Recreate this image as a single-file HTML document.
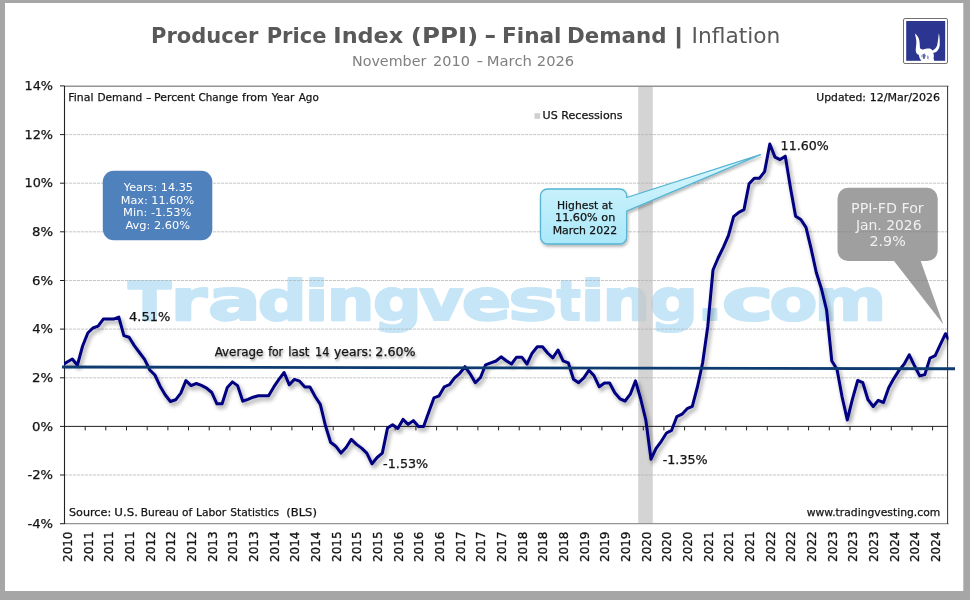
<!DOCTYPE html>
<html lang="en"><head><meta charset="utf-8"><title>Producer Price Index (PPI) - Final Demand | Inflation</title>
<style>
html,body{margin:0;padding:0;background:#a6a6a6;}
body{width:970px;height:600px;overflow:hidden;position:relative;}
svg{position:absolute;left:0;top:0;display:block}
text{font-family:"DejaVu Sans","Liberation Sans",sans-serif;}
.v8{font-size:10.67px;fill:#111}
.v9{font-size:12px;fill:#111}
.xl{font-family:"DejaVu Sans Condensed","DejaVu Sans","Liberation Sans",sans-serif;font-size:13px;fill:#141414;stroke:#141414;stroke-width:0.3px}
</style></head><body>
<svg width="970" height="600" viewBox="0 0 970 600">
<defs>
<filter id="sh" x="-5%" y="-5%" width="110%" height="115%"><feGaussianBlur in="SourceAlpha" stdDeviation="2"/><feOffset dx="1.5" dy="3" result="b"/><feComponentTransfer><feFuncA type="linear" slope="0.4"/></feComponentTransfer><feMerge><feMergeNode/><feMergeNode in="SourceGraphic"/></feMerge></filter>
<filter id="sh2" x="-10%" y="-10%" width="120%" height="130%"><feGaussianBlur in="SourceAlpha" stdDeviation="1.5"/><feOffset dx="1" dy="2" result="b"/><feComponentTransfer><feFuncA type="linear" slope="0.3"/></feComponentTransfer><feMerge><feMergeNode/><feMergeNode in="SourceGraphic"/></feMerge></filter>
<filter id="ts" x="-5%" y="-40%" width="110%" height="200%"><feGaussianBlur in="SourceAlpha" stdDeviation="1.1"/><feOffset dx="0.8" dy="1.6" result="b"/><feComponentTransfer><feFuncA type="linear" slope="0.38"/></feComponentTransfer><feMerge><feMergeNode/><feMergeNode in="SourceGraphic"/></feMerge></filter>
<linearGradient id="cg" x1="0" y1="0" x2="0" y2="1"><stop offset="0" stop-color="#d8f6fe"/><stop offset="1" stop-color="#abe8f9"/></linearGradient>
<clipPath id="pc"><rect x="64" y="86" width="884.5" height="438"/></clipPath>
</defs>
<rect x="0" y="0" width="970" height="600" fill="#a6a6a6"/>
<rect x="5" y="3" width="958.3" height="588" fill="#ffffff"/>

<text x="151.07" y="43.2" font-size="21.33px" font-weight="bold" fill="#595959" textLength="107.39" lengthAdjust="spacingAndGlyphs">Producer</text>
<text x="266.67" y="43.2" font-size="21.33px" font-weight="bold" fill="#595959" textLength="59.85" lengthAdjust="spacingAndGlyphs">Price</text>
<text x="333.35" y="43.2" font-size="21.33px" font-weight="bold" fill="#595959" textLength="69.89" lengthAdjust="spacingAndGlyphs">Index</text>
<text x="410.69" y="43.2" font-size="21.33px" font-weight="bold" fill="#595959" textLength="67.62" lengthAdjust="spacingAndGlyphs">(PPI)</text>
<text x="484.23" y="43.2" font-size="21.33px" font-weight="bold" fill="#595959" textLength="12.05" lengthAdjust="spacingAndGlyphs">-</text>
<text x="502.02" y="43.2" font-size="21.33px" font-weight="bold" fill="#595959" textLength="59.5" lengthAdjust="spacingAndGlyphs">Final</text>
<text x="567.04" y="43.2" font-size="21.33px" font-weight="bold" fill="#595959" textLength="99.46" lengthAdjust="spacingAndGlyphs">Demand</text>
<text x="673.11" y="43.2" font-size="21.33px" font-weight="bold" fill="#595959" textLength="11.2" lengthAdjust="spacingAndGlyphs">|</text>
<text x="691.57" y="43.2" font-size="21.33px" fill="#595959" textLength="88.78" lengthAdjust="spacingAndGlyphs">Inflation</text>
<text x="352.0" y="66.4" font-size="14.67px" fill="#808080" textLength="74.3" lengthAdjust="spacingAndGlyphs">November</text>
<text x="433.04" y="66.4" font-size="14.67px" fill="#808080" textLength="36.82" lengthAdjust="spacingAndGlyphs">2010</text>
<text x="476.49" y="66.4" font-size="14.67px" fill="#808080" textLength="6.72" lengthAdjust="spacingAndGlyphs">-</text>
<text x="486.76" y="66.4" font-size="14.67px" fill="#808080" textLength="45.2" lengthAdjust="spacingAndGlyphs">March</text>
<text x="536.83" y="66.4" font-size="14.67px" fill="#808080" textLength="37.3" lengthAdjust="spacingAndGlyphs">2026</text>
<g>
<rect x="903.5" y="18.5" width="44" height="45" rx="1.5" fill="#fff" stroke="#707070" stroke-width="1"/>
<rect x="906.2" y="21" width="39" height="39.8" fill="#2c3691"/>
<path d="M914.9,33.4 C916.5,34.5 918.5,36.5 919.2,40 C919.8,43 919.8,46 920,47.8 C920.4,49.3 922,49.8 924,49.3 C925.5,48.6 929.5,48.2 931,49 C931.8,49.5 932,50.2 932.4,50.4 C934,50 936.2,48 937.1,45.5 C938,42 938.2,37 938.9,33.3 C939.6,36 940,42 939.7,45.5 C939.4,48.5 937.5,51.5 935.1,52.5 L933.2,52.8 C933.6,54 934,55 933.9,56 L933.6,58.3 L934.2,60.9 L921.4,60.9 L919.6,58 L918.75,54.8 C917.5,54.6 916.3,53.5 915.8,51.3 C915.4,49 916.6,45 916.3,41 C916.1,38 915.4,35.5 914.9,33.4 Z" fill="#fff"/>
<path d="M922.3,54.6 L924.6,53.6 L925.6,55.4 L925,58.6 L923.2,59 L922.6,57 Z" fill="#2c3691" opacity="0.75"/>
<path d="M927,55.6 L928.6,56 L928.6,59.4 L927.2,59 Z" fill="#2c3691" opacity="0.5"/>
<path d="M920.6,55.8 L922,55.2 L921.6,57.4 Z" fill="#2c3691" opacity="0.5"/>
</g>
<text y="320.1" font-size="56px" font-weight="bold" fill="#c6e6f8" stroke="#c6e6f8" stroke-width="2.2" stroke-linejoin="round"><tspan x="128.39" font-size="53.5px" textLength="42.74" lengthAdjust="spacingAndGlyphs">T</tspan><tspan x="170.72" font-size="56.5px" textLength="36.3" lengthAdjust="spacingAndGlyphs">r</tspan><tspan x="208.04" font-size="56.5px" textLength="52.82" lengthAdjust="spacingAndGlyphs">a</tspan><tspan x="257.73" font-size="55px" textLength="48.91" lengthAdjust="spacingAndGlyphs">d</tspan><tspan x="304.89" font-size="55px" textLength="23.73" lengthAdjust="spacingAndGlyphs">i</tspan><tspan x="326.68" font-size="56.5px" textLength="47.65" lengthAdjust="spacingAndGlyphs">n</tspan><tspan x="373.14" font-size="56.5px" textLength="48.79" lengthAdjust="spacingAndGlyphs">g</tspan><tspan x="419.37" font-size="56.5px" textLength="44.22" lengthAdjust="spacingAndGlyphs">v</tspan><tspan x="461.87" font-size="56.5px" textLength="49.34" lengthAdjust="spacingAndGlyphs">e</tspan><tspan x="508.25" font-size="56.5px" textLength="48.83" lengthAdjust="spacingAndGlyphs">s</tspan><tspan x="556.64" font-size="55px" textLength="23.91" lengthAdjust="spacingAndGlyphs">t</tspan><tspan x="580.69" font-size="55px" textLength="23.73" lengthAdjust="spacingAndGlyphs">i</tspan><tspan x="602.48" font-size="56.5px" textLength="47.65" lengthAdjust="spacingAndGlyphs">n</tspan><tspan x="649.45" font-size="56.5px" textLength="48.54" lengthAdjust="spacingAndGlyphs">g</tspan><tspan x="696.82" font-size="56.5px" textLength="26.37" lengthAdjust="spacingAndGlyphs">.</tspan><tspan x="721.75" font-size="56.5px" textLength="51.8" lengthAdjust="spacingAndGlyphs">c</tspan><tspan x="769.4" font-size="56.5px" textLength="47.89" lengthAdjust="spacingAndGlyphs">o</tspan><tspan x="814.58" font-size="56.5px" textLength="71.76" lengthAdjust="spacingAndGlyphs">m</tspan></text>
<rect x="638.2" y="86.4" width="14.6" height="437" fill="#c2c2c2" fill-opacity="0.7"/>
<line x1="65" x2="947.5" y1="134.6" y2="134.6" stroke="#b0b0b0" stroke-width="0.7" stroke-dasharray="3.2,0.8"/>
<line x1="65" x2="947.5" y1="183.2" y2="183.2" stroke="#b0b0b0" stroke-width="0.7" stroke-dasharray="3.2,0.8"/>
<line x1="65" x2="947.5" y1="231.8" y2="231.8" stroke="#b0b0b0" stroke-width="0.7" stroke-dasharray="3.2,0.8"/>
<line x1="65" x2="947.5" y1="280.5" y2="280.5" stroke="#b0b0b0" stroke-width="0.7" stroke-dasharray="3.2,0.8"/>
<line x1="65" x2="947.5" y1="329.1" y2="329.1" stroke="#b0b0b0" stroke-width="0.7" stroke-dasharray="3.2,0.8"/>
<line x1="65" x2="947.5" y1="377.8" y2="377.8" stroke="#b0b0b0" stroke-width="0.7" stroke-dasharray="3.2,0.8"/>
<line x1="65" x2="947.5" y1="475.0" y2="475.0" stroke="#b0b0b0" stroke-width="0.7" stroke-dasharray="3.2,0.8"/>
<line x1="64" x2="948.5" y1="86.2" y2="86.2" stroke="#949494" stroke-width="1.4"/>
<line x1="64" x2="948.5" y1="523.6" y2="523.6" stroke="#949494" stroke-width="1.4"/>
<line x1="64.5" x2="64.5" y1="86" y2="524" stroke="#222" stroke-width="1.1"/>
<line x1="947.6" x2="947.6" y1="86" y2="524" stroke="#333" stroke-width="1"/>
<line x1="60" x2="64.5" y1="85.9" y2="85.9" stroke="#222" stroke-width="1"/>
<text x="24.49" y="90.0" font-size="11.4px" fill="#141414" textLength="28.52" lengthAdjust="spacingAndGlyphs" stroke="#141414" stroke-width="0.25">14%</text>
<line x1="60" x2="64.5" y1="134.6" y2="134.6" stroke="#222" stroke-width="1"/>
<text x="24.49" y="138.7" font-size="11.4px" fill="#141414" textLength="28.52" lengthAdjust="spacingAndGlyphs" stroke="#141414" stroke-width="0.25">12%</text>
<line x1="60" x2="64.5" y1="183.2" y2="183.2" stroke="#222" stroke-width="1"/>
<text x="24.49" y="187.3" font-size="11.4px" fill="#141414" textLength="28.52" lengthAdjust="spacingAndGlyphs" stroke="#141414" stroke-width="0.25">10%</text>
<line x1="60" x2="64.5" y1="231.8" y2="231.8" stroke="#222" stroke-width="1"/>
<text x="32.0" y="235.9" font-size="11.4px" fill="#141414" textLength="21.03" lengthAdjust="spacingAndGlyphs" stroke="#141414" stroke-width="0.25">8%</text>
<line x1="60" x2="64.5" y1="280.5" y2="280.5" stroke="#222" stroke-width="1"/>
<text x="31.97" y="284.6" font-size="11.4px" fill="#141414" textLength="21.06" lengthAdjust="spacingAndGlyphs" stroke="#141414" stroke-width="0.25">6%</text>
<line x1="60" x2="64.5" y1="329.1" y2="329.1" stroke="#222" stroke-width="1"/>
<text x="32.26" y="333.2" font-size="11.4px" fill="#141414" textLength="20.76" lengthAdjust="spacingAndGlyphs" stroke="#141414" stroke-width="0.25">4%</text>
<line x1="60" x2="64.5" y1="377.8" y2="377.8" stroke="#222" stroke-width="1"/>
<text x="31.93" y="381.9" font-size="11.4px" fill="#141414" textLength="21.11" lengthAdjust="spacingAndGlyphs" stroke="#141414" stroke-width="0.25">2%</text>
<line x1="60" x2="64.5" y1="426.4" y2="426.4" stroke="#222" stroke-width="1"/>
<text x="32.03" y="430.5" font-size="11.4px" fill="#141414" textLength="21.0" lengthAdjust="spacingAndGlyphs" stroke="#141414" stroke-width="0.25">0%</text>
<line x1="60" x2="64.5" y1="475.0" y2="475.0" stroke="#222" stroke-width="1"/>
<text x="27.46" y="479.1" font-size="11.4px" fill="#141414" textLength="25.57" lengthAdjust="spacingAndGlyphs" stroke="#141414" stroke-width="0.25">-2%</text>
<line x1="60" x2="64.5" y1="523.7" y2="523.7" stroke="#222" stroke-width="1"/>
<text x="27.46" y="527.8" font-size="11.4px" fill="#141414" textLength="25.57" lengthAdjust="spacingAndGlyphs" stroke="#141414" stroke-width="0.25">-4%</text>
<line x1="64" x2="948" y1="426.4" y2="426.4" stroke="#222" stroke-width="1"/>
<line x1="85.2" x2="85.2" y1="426.4" y2="430.4" stroke="#222" stroke-width="1"/>
<line x1="105.8" x2="105.8" y1="426.4" y2="430.4" stroke="#222" stroke-width="1"/>
<line x1="126.5" x2="126.5" y1="426.4" y2="430.4" stroke="#222" stroke-width="1"/>
<line x1="147.2" x2="147.2" y1="426.4" y2="430.4" stroke="#222" stroke-width="1"/>
<line x1="167.9" x2="167.9" y1="426.4" y2="430.4" stroke="#222" stroke-width="1"/>
<line x1="188.5" x2="188.5" y1="426.4" y2="430.4" stroke="#222" stroke-width="1"/>
<line x1="209.2" x2="209.2" y1="426.4" y2="430.4" stroke="#222" stroke-width="1"/>
<line x1="229.9" x2="229.9" y1="426.4" y2="430.4" stroke="#222" stroke-width="1"/>
<line x1="250.5" x2="250.5" y1="426.4" y2="430.4" stroke="#222" stroke-width="1"/>
<line x1="271.2" x2="271.2" y1="426.4" y2="430.4" stroke="#222" stroke-width="1"/>
<line x1="291.9" x2="291.9" y1="426.4" y2="430.4" stroke="#222" stroke-width="1"/>
<line x1="312.5" x2="312.5" y1="426.4" y2="430.4" stroke="#222" stroke-width="1"/>
<line x1="333.2" x2="333.2" y1="426.4" y2="430.4" stroke="#222" stroke-width="1"/>
<line x1="353.9" x2="353.9" y1="426.4" y2="430.4" stroke="#222" stroke-width="1"/>
<line x1="374.6" x2="374.6" y1="426.4" y2="430.4" stroke="#222" stroke-width="1"/>
<line x1="395.2" x2="395.2" y1="426.4" y2="430.4" stroke="#222" stroke-width="1"/>
<line x1="415.9" x2="415.9" y1="426.4" y2="430.4" stroke="#222" stroke-width="1"/>
<line x1="436.6" x2="436.6" y1="426.4" y2="430.4" stroke="#222" stroke-width="1"/>
<line x1="457.2" x2="457.2" y1="426.4" y2="430.4" stroke="#222" stroke-width="1"/>
<line x1="477.9" x2="477.9" y1="426.4" y2="430.4" stroke="#222" stroke-width="1"/>
<line x1="498.6" x2="498.6" y1="426.4" y2="430.4" stroke="#222" stroke-width="1"/>
<line x1="519.2" x2="519.2" y1="426.4" y2="430.4" stroke="#222" stroke-width="1"/>
<line x1="539.9" x2="539.9" y1="426.4" y2="430.4" stroke="#222" stroke-width="1"/>
<line x1="560.6" x2="560.6" y1="426.4" y2="430.4" stroke="#222" stroke-width="1"/>
<line x1="581.2" x2="581.2" y1="426.4" y2="430.4" stroke="#222" stroke-width="1"/>
<line x1="601.9" x2="601.9" y1="426.4" y2="430.4" stroke="#222" stroke-width="1"/>
<line x1="622.6" x2="622.6" y1="426.4" y2="430.4" stroke="#222" stroke-width="1"/>
<line x1="643.3" x2="643.3" y1="426.4" y2="430.4" stroke="#222" stroke-width="1"/>
<line x1="663.9" x2="663.9" y1="426.4" y2="430.4" stroke="#222" stroke-width="1"/>
<line x1="684.6" x2="684.6" y1="426.4" y2="430.4" stroke="#222" stroke-width="1"/>
<line x1="705.3" x2="705.3" y1="426.4" y2="430.4" stroke="#222" stroke-width="1"/>
<line x1="725.9" x2="725.9" y1="426.4" y2="430.4" stroke="#222" stroke-width="1"/>
<line x1="746.6" x2="746.6" y1="426.4" y2="430.4" stroke="#222" stroke-width="1"/>
<line x1="767.3" x2="767.3" y1="426.4" y2="430.4" stroke="#222" stroke-width="1"/>
<line x1="788.0" x2="788.0" y1="426.4" y2="430.4" stroke="#222" stroke-width="1"/>
<line x1="808.6" x2="808.6" y1="426.4" y2="430.4" stroke="#222" stroke-width="1"/>
<line x1="829.3" x2="829.3" y1="426.4" y2="430.4" stroke="#222" stroke-width="1"/>
<line x1="850.0" x2="850.0" y1="426.4" y2="430.4" stroke="#222" stroke-width="1"/>
<line x1="870.6" x2="870.6" y1="426.4" y2="430.4" stroke="#222" stroke-width="1"/>
<line x1="891.3" x2="891.3" y1="426.4" y2="430.4" stroke="#222" stroke-width="1"/>
<line x1="912.0" x2="912.0" y1="426.4" y2="430.4" stroke="#222" stroke-width="1"/>
<line x1="932.6" x2="932.6" y1="426.4" y2="430.4" stroke="#222" stroke-width="1"/>
<text class="xl" transform="translate(71.8,561.1) rotate(-90)" x="-0.87" textLength="30.36" lengthAdjust="spacingAndGlyphs">2010</text>
<text class="xl" transform="translate(92.5,561.1) rotate(-90)" x="-0.88" textLength="30.69" lengthAdjust="spacingAndGlyphs">2011</text>
<text class="xl" transform="translate(113.1,561.1) rotate(-90)" x="-0.88" textLength="30.69" lengthAdjust="spacingAndGlyphs">2011</text>
<text class="xl" transform="translate(133.8,561.1) rotate(-90)" x="-0.88" textLength="30.69" lengthAdjust="spacingAndGlyphs">2011</text>
<text class="xl" transform="translate(154.5,561.1) rotate(-90)" x="-0.89" textLength="30.79" lengthAdjust="spacingAndGlyphs">2012</text>
<text class="xl" transform="translate(175.2,561.1) rotate(-90)" x="-0.89" textLength="30.79" lengthAdjust="spacingAndGlyphs">2012</text>
<text class="xl" transform="translate(195.8,561.1) rotate(-90)" x="-0.89" textLength="30.79" lengthAdjust="spacingAndGlyphs">2012</text>
<text class="xl" transform="translate(216.5,561.1) rotate(-90)" x="-0.88" textLength="30.53" lengthAdjust="spacingAndGlyphs">2013</text>
<text class="xl" transform="translate(237.2,561.1) rotate(-90)" x="-0.88" textLength="30.53" lengthAdjust="spacingAndGlyphs">2013</text>
<text class="xl" transform="translate(257.8,561.1) rotate(-90)" x="-0.88" textLength="30.53" lengthAdjust="spacingAndGlyphs">2013</text>
<text class="xl" transform="translate(278.5,561.1) rotate(-90)" x="-0.87" textLength="30.23" lengthAdjust="spacingAndGlyphs">2014</text>
<text class="xl" transform="translate(299.2,561.1) rotate(-90)" x="-0.87" textLength="30.23" lengthAdjust="spacingAndGlyphs">2014</text>
<text class="xl" transform="translate(319.9,561.1) rotate(-90)" x="-0.87" textLength="30.23" lengthAdjust="spacingAndGlyphs">2014</text>
<text class="xl" transform="translate(340.5,561.1) rotate(-90)" x="-0.88" textLength="30.63" lengthAdjust="spacingAndGlyphs">2015</text>
<text class="xl" transform="translate(361.2,561.1) rotate(-90)" x="-0.88" textLength="30.63" lengthAdjust="spacingAndGlyphs">2015</text>
<text class="xl" transform="translate(381.9,561.1) rotate(-90)" x="-0.88" textLength="30.63" lengthAdjust="spacingAndGlyphs">2015</text>
<text class="xl" transform="translate(402.6,561.1) rotate(-90)" x="-0.87" textLength="30.32" lengthAdjust="spacingAndGlyphs">2016</text>
<text class="xl" transform="translate(423.2,561.1) rotate(-90)" x="-0.87" textLength="30.32" lengthAdjust="spacingAndGlyphs">2016</text>
<text class="xl" transform="translate(443.9,561.1) rotate(-90)" x="-0.87" textLength="30.32" lengthAdjust="spacingAndGlyphs">2016</text>
<text class="xl" transform="translate(464.6,561.1) rotate(-90)" x="-0.88" textLength="30.6" lengthAdjust="spacingAndGlyphs">2017</text>
<text class="xl" transform="translate(485.2,561.1) rotate(-90)" x="-0.88" textLength="30.6" lengthAdjust="spacingAndGlyphs">2017</text>
<text class="xl" transform="translate(505.9,561.1) rotate(-90)" x="-0.88" textLength="30.6" lengthAdjust="spacingAndGlyphs">2017</text>
<text class="xl" transform="translate(526.6,561.1) rotate(-90)" x="-0.88" textLength="30.39" lengthAdjust="spacingAndGlyphs">2018</text>
<text class="xl" transform="translate(547.3,561.1) rotate(-90)" x="-0.88" textLength="30.39" lengthAdjust="spacingAndGlyphs">2018</text>
<text class="xl" transform="translate(567.9,561.1) rotate(-90)" x="-0.88" textLength="30.39" lengthAdjust="spacingAndGlyphs">2018</text>
<text class="xl" transform="translate(588.6,561.1) rotate(-90)" x="-0.88" textLength="30.41" lengthAdjust="spacingAndGlyphs">2019</text>
<text class="xl" transform="translate(609.3,561.1) rotate(-90)" x="-0.88" textLength="30.41" lengthAdjust="spacingAndGlyphs">2019</text>
<text class="xl" transform="translate(629.9,561.1) rotate(-90)" x="-0.88" textLength="30.41" lengthAdjust="spacingAndGlyphs">2019</text>
<text class="xl" transform="translate(650.6,561.1) rotate(-90)" x="-0.87" textLength="30.36" lengthAdjust="spacingAndGlyphs">2020</text>
<text class="xl" transform="translate(671.3,561.1) rotate(-90)" x="-0.87" textLength="30.36" lengthAdjust="spacingAndGlyphs">2020</text>
<text class="xl" transform="translate(692.0,561.1) rotate(-90)" x="-0.87" textLength="30.36" lengthAdjust="spacingAndGlyphs">2020</text>
<text class="xl" transform="translate(712.6,561.1) rotate(-90)" x="-0.88" textLength="30.69" lengthAdjust="spacingAndGlyphs">2021</text>
<text class="xl" transform="translate(733.3,561.1) rotate(-90)" x="-0.88" textLength="30.69" lengthAdjust="spacingAndGlyphs">2021</text>
<text class="xl" transform="translate(754.0,561.1) rotate(-90)" x="-0.88" textLength="30.69" lengthAdjust="spacingAndGlyphs">2021</text>
<text class="xl" transform="translate(774.6,561.1) rotate(-90)" x="-0.89" textLength="30.79" lengthAdjust="spacingAndGlyphs">2022</text>
<text class="xl" transform="translate(795.3,561.1) rotate(-90)" x="-0.89" textLength="30.79" lengthAdjust="spacingAndGlyphs">2022</text>
<text class="xl" transform="translate(816.0,561.1) rotate(-90)" x="-0.89" textLength="30.79" lengthAdjust="spacingAndGlyphs">2022</text>
<text class="xl" transform="translate(836.7,561.1) rotate(-90)" x="-0.88" textLength="30.53" lengthAdjust="spacingAndGlyphs">2023</text>
<text class="xl" transform="translate(857.3,561.1) rotate(-90)" x="-0.88" textLength="30.53" lengthAdjust="spacingAndGlyphs">2023</text>
<text class="xl" transform="translate(878.0,561.1) rotate(-90)" x="-0.88" textLength="30.53" lengthAdjust="spacingAndGlyphs">2023</text>
<text class="xl" transform="translate(898.7,561.1) rotate(-90)" x="-0.87" textLength="30.23" lengthAdjust="spacingAndGlyphs">2024</text>
<text class="xl" transform="translate(919.4,561.1) rotate(-90)" x="-0.87" textLength="30.23" lengthAdjust="spacingAndGlyphs">2024</text>
<text class="xl" transform="translate(940.0,561.1) rotate(-90)" x="-0.87" textLength="30.23" lengthAdjust="spacingAndGlyphs">2024</text>
<g clip-path="url(#pc)"><path d="M64.5,363.8 L67.1,362.0 L72.3,359.0 L77.4,365.2 L82.6,346.0 L87.8,333.0 L92.9,328.0 L98.1,326.2 L103.3,319.1 L108.4,319.1 L113.6,319.1 L118.8,317.1 L123.9,335.6 L129.1,337.2 L134.3,345.6 L139.4,352.5 L144.6,359.4 L149.8,370.0 L154.9,375.0 L160.1,386.2 L165.3,395.0 L170.4,401.5 L175.6,399.8 L180.8,393.1 L185.9,380.6 L191.1,385.6 L196.3,383.5 L201.4,385.4 L206.6,388.1 L211.8,392.5 L216.9,403.8 L222.1,403.8 L227.3,387.5 L232.4,381.9 L237.6,385.6 L242.8,401.2 L247.9,399.4 L253.1,397.2 L258.3,395.8 L263.4,395.8 L268.6,395.8 L273.8,386.9 L278.9,379.4 L284.1,372.5 L289.3,384.8 L294.4,379.4 L299.6,381.2 L304.8,386.9 L309.9,386.9 L315.1,396.5 L320.3,404.4 L325.4,425.5 L330.6,442.2 L335.8,446.2 L341.0,453.1 L346.1,447.5 L351.3,439.4 L356.5,444.4 L361.6,448.1 L366.8,453.1 L372.0,463.8 L377.1,457.5 L382.3,453.1 L387.5,428.1 L392.6,424.8 L397.8,428.5 L403.0,419.4 L408.1,424.4 L413.3,420.6 L418.5,426.5 L423.6,426.5 L428.8,412.0 L434.0,397.8 L439.1,395.8 L444.3,386.8 L449.5,384.7 L454.6,377.8 L459.8,373.3 L465.0,366.7 L470.1,373.8 L475.3,382.8 L480.5,377.5 L485.6,364.8 L490.8,362.9 L496.0,361.0 L501.1,356.8 L506.3,360.7 L511.5,364.0 L516.6,357.2 L521.8,357.2 L527.0,364.0 L532.1,353.2 L537.3,346.7 L542.5,346.7 L547.6,353.0 L552.8,357.8 L558.0,350.0 L563.1,360.8 L568.3,362.8 L573.5,379.2 L578.6,382.7 L583.8,377.8 L589.0,370.2 L594.1,375.8 L599.3,386.8 L604.5,383.0 L609.6,383.0 L614.8,392.8 L620.0,398.8 L625.1,401.0 L630.3,394.2 L635.5,380.8 L640.6,398.5 L645.8,419.8 L651.0,459.2 L656.1,448.3 L661.3,441.3 L666.5,433.0 L671.6,430.3 L676.8,416.7 L682.0,414.2 L687.1,408.7 L692.3,406.3 L697.5,386.5 L702.6,363.0 L707.8,326.2 L713.0,270.0 L718.1,258.0 L723.3,247.3 L728.5,235.3 L733.6,216.7 L738.8,212.3 L744.0,209.6 L749.1,183.8 L754.3,178.2 L759.5,178.2 L764.6,171.6 L769.8,144.0 L775.0,157.1 L780.1,159.6 L785.3,156.2 L790.5,188.0 L795.6,216.2 L800.8,219.5 L806.0,227.3 L811.1,248.7 L816.3,272.5 L821.5,289.0 L826.6,310.0 L831.8,361.0 L837.0,369.3 L842.1,397.0 L847.3,419.9 L852.5,398.8 L857.7,380.5 L862.8,382.7 L868.0,399.7 L873.2,406.5 L878.3,400.3 L883.5,402.5 L888.7,387.8 L893.8,378.6 L899.0,370.4 L904.2,364.0 L909.3,354.8 L914.5,365.8 L919.7,375.9 L924.8,374.6 L930.0,358.1 L935.2,355.7 L940.3,344.7 L945.5,333.7 L948.0,338.5" fill="none" stroke="#000080" stroke-width="3" stroke-linejoin="round" stroke-linecap="round" filter="url(#sh)"/></g>
<line x1="62" x2="955" y1="367.0" y2="368.7" stroke="#0e3c70" stroke-width="2.9"/>
<text y="101.1" font-size="10.67px" fill="#141414" stroke="#141414" stroke-width="0.25"><tspan x="68.26" textLength="25.24" lengthAdjust="spacingAndGlyphs">Final</tspan> <tspan x="97.46" textLength="44.9" lengthAdjust="spacingAndGlyphs">Demand</tspan> <tspan x="146.0" textLength="5.55" lengthAdjust="spacingAndGlyphs">-</tspan> <tspan x="154.05" textLength="40.91" lengthAdjust="spacingAndGlyphs">Percent</tspan> <tspan x="198.52" textLength="39.63" lengthAdjust="spacingAndGlyphs">Change</tspan> <tspan x="242.05" textLength="25.57" lengthAdjust="spacingAndGlyphs">from</tspan> <tspan x="271.77" textLength="22.53" lengthAdjust="spacingAndGlyphs">Year</tspan> <tspan x="298.72" textLength="20.05" lengthAdjust="spacingAndGlyphs">Ago</tspan></text>
<text y="101.2" font-size="10.67px" fill="#141414" stroke="#141414" stroke-width="0.25"><tspan x="816.36" textLength="49.6" lengthAdjust="spacingAndGlyphs">Updated:</tspan> <tspan x="869.69" textLength="70.41" lengthAdjust="spacingAndGlyphs">12/Mar/2026</tspan></text>
<rect x="534.5" y="113.2" width="5.6" height="5.6" fill="#cfcfcf"/>
<text x="542.64" y="118.9" font-size="10.67px" fill="#141414" textLength="79.9" lengthAdjust="spacingAndGlyphs" stroke="#141414" stroke-width="0.25">US Recessions</text>
<text y="516.4" font-size="10.67px" fill="#141414" stroke="#141414" stroke-width="0.25"><tspan x="68.97" textLength="42.23" lengthAdjust="spacingAndGlyphs">Source:</tspan> <tspan x="114.27" textLength="23.71" lengthAdjust="spacingAndGlyphs">U.S.</tspan> <tspan x="140.66" textLength="38.1" lengthAdjust="spacingAndGlyphs">Bureau</tspan> <tspan x="182.12" textLength="10.18" lengthAdjust="spacingAndGlyphs">of</tspan> <tspan x="195.95" textLength="30.25" lengthAdjust="spacingAndGlyphs">Labor</tspan> <tspan x="230.19" textLength="49.03" lengthAdjust="spacingAndGlyphs">Statistics</tspan> <tspan x="286.2" textLength="30.79" lengthAdjust="spacingAndGlyphs">(BLS)</tspan></text>
<text x="806.75" y="516.4" font-size="10.67px" fill="#141414" textLength="133.46" lengthAdjust="spacingAndGlyphs" stroke="#141414" stroke-width="0.25">www.tradingvesting.com</text>
<text x="129.06" y="320.8" font-size="12px" fill="#141414" textLength="41.35" lengthAdjust="spacingAndGlyphs" stroke="#141414" stroke-width="0.25">4.51%</text>
<text y="355.7" font-size="12px" fill="#141414" stroke="#141414" stroke-width="0.25" filter="url(#ts)"><tspan x="214.71" textLength="48.61" lengthAdjust="spacingAndGlyphs">Average</tspan> <tspan x="268.15" textLength="14.95" lengthAdjust="spacingAndGlyphs">for</tspan> <tspan x="288.29" textLength="21.19" lengthAdjust="spacingAndGlyphs">last</tspan> <tspan x="314.96" textLength="14.38" lengthAdjust="spacingAndGlyphs">14</tspan> <tspan x="334.03" textLength="38.11" lengthAdjust="spacingAndGlyphs">years:</tspan> <tspan x="375.37" textLength="40.23" lengthAdjust="spacingAndGlyphs">2.60%</tspan></text>
<text x="383.13" y="468.1" font-size="12px" fill="#141414" textLength="45.08" lengthAdjust="spacingAndGlyphs" stroke="#141414" stroke-width="0.25">-1.53%</text>
<text x="662.68" y="464.2" font-size="12px" fill="#141414" textLength="45.02" lengthAdjust="spacingAndGlyphs" stroke="#141414" stroke-width="0.25">-1.35%</text>
<text x="780.61" y="149.7" font-size="12px" fill="#141414" textLength="48.08" lengthAdjust="spacingAndGlyphs" stroke="#141414" stroke-width="0.25">11.60%</text>
<rect x="102.8" y="170.8" width="109.5" height="69.5" rx="11" fill="#4f81bd"/>
<text x="123.82" y="190.8" font-size="10.67px" fill="#fff" textLength="69.14" lengthAdjust="spacingAndGlyphs">Years: 14.35</text>
<text x="120.7" y="203.6" font-size="10.67px" fill="#fff" textLength="73.42" lengthAdjust="spacingAndGlyphs">Max: 11.60%</text>
<text x="123.08" y="216.4" font-size="10.67px" fill="#fff" textLength="68.36" lengthAdjust="spacingAndGlyphs">Min: -1.53%</text>
<text x="125.51" y="229.3" font-size="10.67px" fill="#fff" textLength="64.61" lengthAdjust="spacingAndGlyphs">Avg: 2.60%</text>
<path d="M547.5,189 H619.7 a7,7 0 0 1 7,7 V197.5 L760.5,154.7 L626.7,211.2 V237 a7,7 0 0 1 -7,7 H547.5 a7,7 0 0 1 -7,-7 V196 a7,7 0 0 1 7,-7 Z" fill="url(#cg)" stroke="#56b4d3" stroke-width="1.3" stroke-linejoin="round" filter="url(#sh2)"/>
<text x="557.04" y="208.5" font-size="10.67px" fill="#141414" textLength="55.41" lengthAdjust="spacingAndGlyphs" stroke="#141414" stroke-width="0.25">Highest at</text>
<text x="555.02" y="221.25" font-size="10.67px" fill="#141414" textLength="60.28" lengthAdjust="spacingAndGlyphs" stroke="#141414" stroke-width="0.25">11.60% on</text>
<text x="552.68" y="234" font-size="10.67px" fill="#141414" textLength="64.4" lengthAdjust="spacingAndGlyphs" stroke="#141414" stroke-width="0.25">March 2022</text>
<path d="M848,187.8 H927.2 a10.5,10.5 0 0 1 10.5,10.5 V250.5 a10.5,10.5 0 0 1 -10.5,10.5 H920.7 L943.3,324.5 L894,261 H848 a10.5,10.5 0 0 1 -10.5,-10.5 V198.3 a10.5,10.5 0 0 1 10.5,-10.5 Z" fill="#7f7f7f" fill-opacity="0.75"/>
<text x="851.11" y="213.2" font-size="13.33px" fill="#f0f0f0" textLength="72.64" lengthAdjust="spacingAndGlyphs">PPI-FD For</text>
<text x="855.92" y="230.2" font-size="13.33px" fill="#f0f0f0" textLength="65.66" lengthAdjust="spacingAndGlyphs">Jan. 2026</text>
<text x="869.45" y="246" font-size="13.33px" fill="#f0f0f0" textLength="36.34" lengthAdjust="spacingAndGlyphs">2.9%</text>
</svg></body></html>
